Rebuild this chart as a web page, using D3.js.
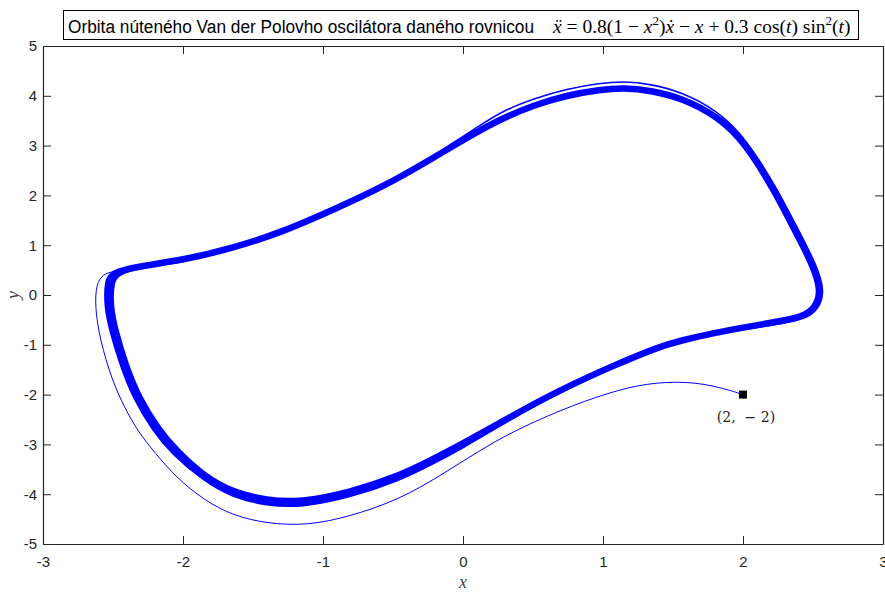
<!DOCTYPE html>
<html><head><meta charset="utf-8">
<script src="https://cdn.jsdelivr.net/npm/d3@7"></script>
<style>
body{margin:0;background:#fff;}
svg{display:block;}
</style></head>
<body>
<svg id="chart" width="885" height="592"></svg>
<script>
// ---- data ----
const xTicks = [-3,-2,-1,0,1,2,3];
const yTicks = [5,4,3,2,1,0,-1,-2,-3,-4,-5];
const startPoint = [2,-2];
const startLabel = "(2,  \u2212 2)";
// limit-cycle band (centre of the thick band), clockwise
const cycleX = [-2.54,-2.50,-2.357,-2.0,-1.643,-1.286,-0.929,-0.571,-0.214,0.029,0.264,0.5,0.743,0.979,1.15,1.336,1.571,1.814,1.979,2.09,2.22,2.35,2.445,2.52,2.555,2.514,2.43,2.28,2.05,1.78,1.55,1.407,1.05,0.693,0.336,-0.021,-0.236,-0.45,-0.807,-1.164,-1.4,-1.643,-1.85,-2.07,-2.2,-2.343,-2.436,-2.507,-2.543];
const cycleY = [0.30,0.44,0.56,0.70,0.94,1.27,1.71,2.17,2.75,3.163,3.527,3.81,4.01,4.125,4.16,4.11,3.95,3.59,3.153,2.71,2.11,1.41,0.90,0.44,0.04,-0.26,-0.43,-0.52,-0.63,-0.77,-0.92,-1.03,-1.446,-1.908,-2.45,-3.05,-3.37,-3.67,-4.02,-4.22,-4.18,-4.02,-3.68,-3.15,-2.71,-2.05,-1.37,-0.70,-0.24];
// inner lap that widens the band along the bottom and the left side
const innerX = [1.05,0.693,0.336,-0.021,-0.236,-0.45,-0.807,-1.164,-1.4,-1.643,-1.85,-2.04,-2.17,-2.315,-2.41,-2.48,-2.515,-2.51,-2.47,-2.357,-2.0];
const innerY = [-1.446,-1.908,-2.43,-3.0,-3.31,-3.61,-3.95,-4.15,-4.11,-3.95,-3.62,-3.13,-2.70,-2.05,-1.37,-0.70,-0.24,0.28,0.42,0.56,0.70];
// outer lap that widens the band along the right side
const rightX = [1.15,1.336,1.571,1.83,1.995,2.107,2.237,2.367,2.462,2.537,2.572,2.53,2.44,2.28,2.05,1.78,1.55,1.407];
const rightY = [4.16,4.11,3.95,3.59,3.153,2.71,2.11,1.41,0.90,0.44,0.04,-0.28,-0.46,-0.55,-0.65,-0.77,-0.92,-1.03];
// separate outermost lap visible above the band at the top
const outerX = [-0.1,0.1,0.3,0.5,0.743,0.979,1.15,1.336,1.571,1.814,1.979,2.09,2.2];
const outerY = [3.0,3.37,3.72,3.94,4.14,4.255,4.29,4.24,4.07,3.70,3.26,2.80,2.26];
// transient from (2,-2)
const transX = [2,1.836,1.6,1.314,1.05,0.693,0.336,0.121,-0.164,-0.45,-0.807,-1.114,-1.4,-1.643,-1.85,-2.05,-2.2,-2.32,-2.42,-2.507,-2.593,-2.629,-2.62,-2.571,-2.5,-2.357,-2.0];
const transY = [-2,-1.85,-1.73,-1.77,-1.95,-2.31,-2.77,-3.12,-3.63,-4.10,-4.45,-4.63,-4.59,-4.43,-4.12,-3.66,-3.17,-2.75,-2.25,-1.71,-0.90,-0.24,0.22,0.42,0.47,0.56,0.70];

// ---- layout ----
const svg = d3.select("#chart");
const L=43, R=883, T=46, B=544;
const x = d3.scaleLinear().domain([-3,3]).range([L,R]);
const y = d3.scaleLinear().domain([-5,5]).range([B,T]);
const axisColor = "#262626";
const tickFont = "'Liberation Sans Narrow','Liberation Sans',Arial,sans-serif";
const blue = "#0000ff";

const pts = (xs,ys)=>d3.range(xs.length).map(i=>[xs[i],ys[i]]);
const lineClosed = d3.line().x(d=>x(d[0])).y(d=>y(d[1])).curve(d3.curveBasisClosed);
const lineOpen = d3.line().x(d=>x(d[0])).y(d=>y(d[1])).curve(d3.curveBasis);

svg.append("path").attr("d",lineOpen(pts(transX,transY))).attr("fill","none").attr("stroke",blue).attr("stroke-width",1);
svg.append("path").attr("d",lineClosed(pts(cycleX,cycleY))).attr("fill","none").attr("stroke",blue).attr("stroke-width",6.5).attr("stroke-linejoin","round");
svg.append("path").attr("d",lineOpen(pts(innerX,innerY))).attr("fill","none").attr("stroke",blue).attr("stroke-width",5).attr("stroke-linecap","round");
svg.append("path").attr("d",lineOpen(pts(rightX,rightY))).attr("fill","none").attr("stroke",blue).attr("stroke-width",4).attr("stroke-linecap","round");
svg.append("path").attr("d",lineOpen(pts(outerX,outerY))).attr("fill","none").attr("stroke",blue).attr("stroke-width",1.6);

// axes (box with inward ticks)
const tl = 8;
const gB = svg.append("g").attr("transform",`translate(0,${B})`)
  .call(d3.axisBottom(x).tickValues(xTicks).tickSizeInner(-tl).tickSizeOuter(0).tickPadding(12).tickFormat(d=>String(d)));
const gT = svg.append("g").attr("transform",`translate(0,${T})`)
  .call(d3.axisTop(x).tickValues(xTicks).tickSizeInner(-tl).tickSizeOuter(0).tickFormat(""));
const gL = svg.append("g").attr("transform",`translate(${L},0)`)
  .call(d3.axisLeft(y).tickValues(yTicks).tickSizeInner(-tl).tickSizeOuter(0).tickPadding(6).tickFormat(d=>String(d)));
const gR = svg.append("g").attr("transform",`translate(${R},0)`)
  .call(d3.axisRight(y).tickValues(yTicks).tickSizeInner(-tl).tickSizeOuter(0).tickFormat(""));
[gB,gT,gL,gR].forEach(g=>{
  g.selectAll("path").attr("stroke",axisColor).attr("stroke-width",1.2);
  g.selectAll("line").attr("stroke",axisColor).attr("stroke-width",1);
  g.selectAll("text").attr("fill",axisColor).style("font-family",tickFont).style("font-size","15px");
});

// start marker
svg.append("rect").attr("x",x(startPoint[0])-4).attr("y",y(startPoint[1])-4).attr("width",8).attr("height",8).attr("fill","#000");
svg.append("text").attr("x",x(startPoint[0])+3).attr("y",y(startPoint[1])+27).attr("text-anchor","middle")
  .style("font-family","'DejaVu Serif','Liberation Serif',serif").style("font-size","14px").attr("fill","#222")
  .attr("xml:space","preserve").text(startLabel);

// axis labels
svg.append("text").attr("x",463).attr("y",588).attr("text-anchor","middle")
  .style("font-family","'Liberation Serif',serif").style("font-style","italic").style("font-size","18px").attr("fill","#444").text("x");
svg.append("text").attr("transform","translate(19,295) rotate(-90)").attr("text-anchor","middle")
  .style("font-family","'Liberation Serif',serif").style("font-style","italic").style("font-size","18px").attr("fill","#444").text("y");

// title box
svg.append("rect").attr("x",63.5).attr("y",10.5).attr("width",795).attr("height",29).attr("fill","#fff").attr("stroke","#000").attr("stroke-width",1);
svg.append("text").attr("x",68).attr("y",33).style("font-size","18px").attr("fill","#000")
  .style("font-family",tickFont).attr("textLength",466).attr("lengthAdjust","spacingAndGlyphs")
  .text("Orbita núteného Van der Polovho oscilátora daného rovnicou");
const m = svg.append("text").attr("x",553).attr("y",33).style("font-size","19.5px").attr("fill","#000")
  .style("font-family","'Liberation Serif','DejaVu Serif',serif");
m.append("tspan").style("font-style","italic").text("\u1E8D");
m.append("tspan").text(" = 0.8(1 \u2212 ");
m.append("tspan").style("font-style","italic").text("x");
m.append("tspan").attr("dy",-8).style("font-size","13px").text("2");
m.append("tspan").attr("dy",8).text(")");
m.append("tspan").style("font-style","italic").text("\u1E8B");
m.append("tspan").text(" \u2212 ");
m.append("tspan").style("font-style","italic").text("x");
m.append("tspan").text(" + 0.3 cos(");
m.append("tspan").style("font-style","italic").text("t");
m.append("tspan").text(") sin");
m.append("tspan").attr("dy",-8).style("font-size","13px").text("2");
m.append("tspan").attr("dy",8).text("(");
m.append("tspan").style("font-style","italic").text("t");
m.append("tspan").text(")");
</script>
</body></html>
